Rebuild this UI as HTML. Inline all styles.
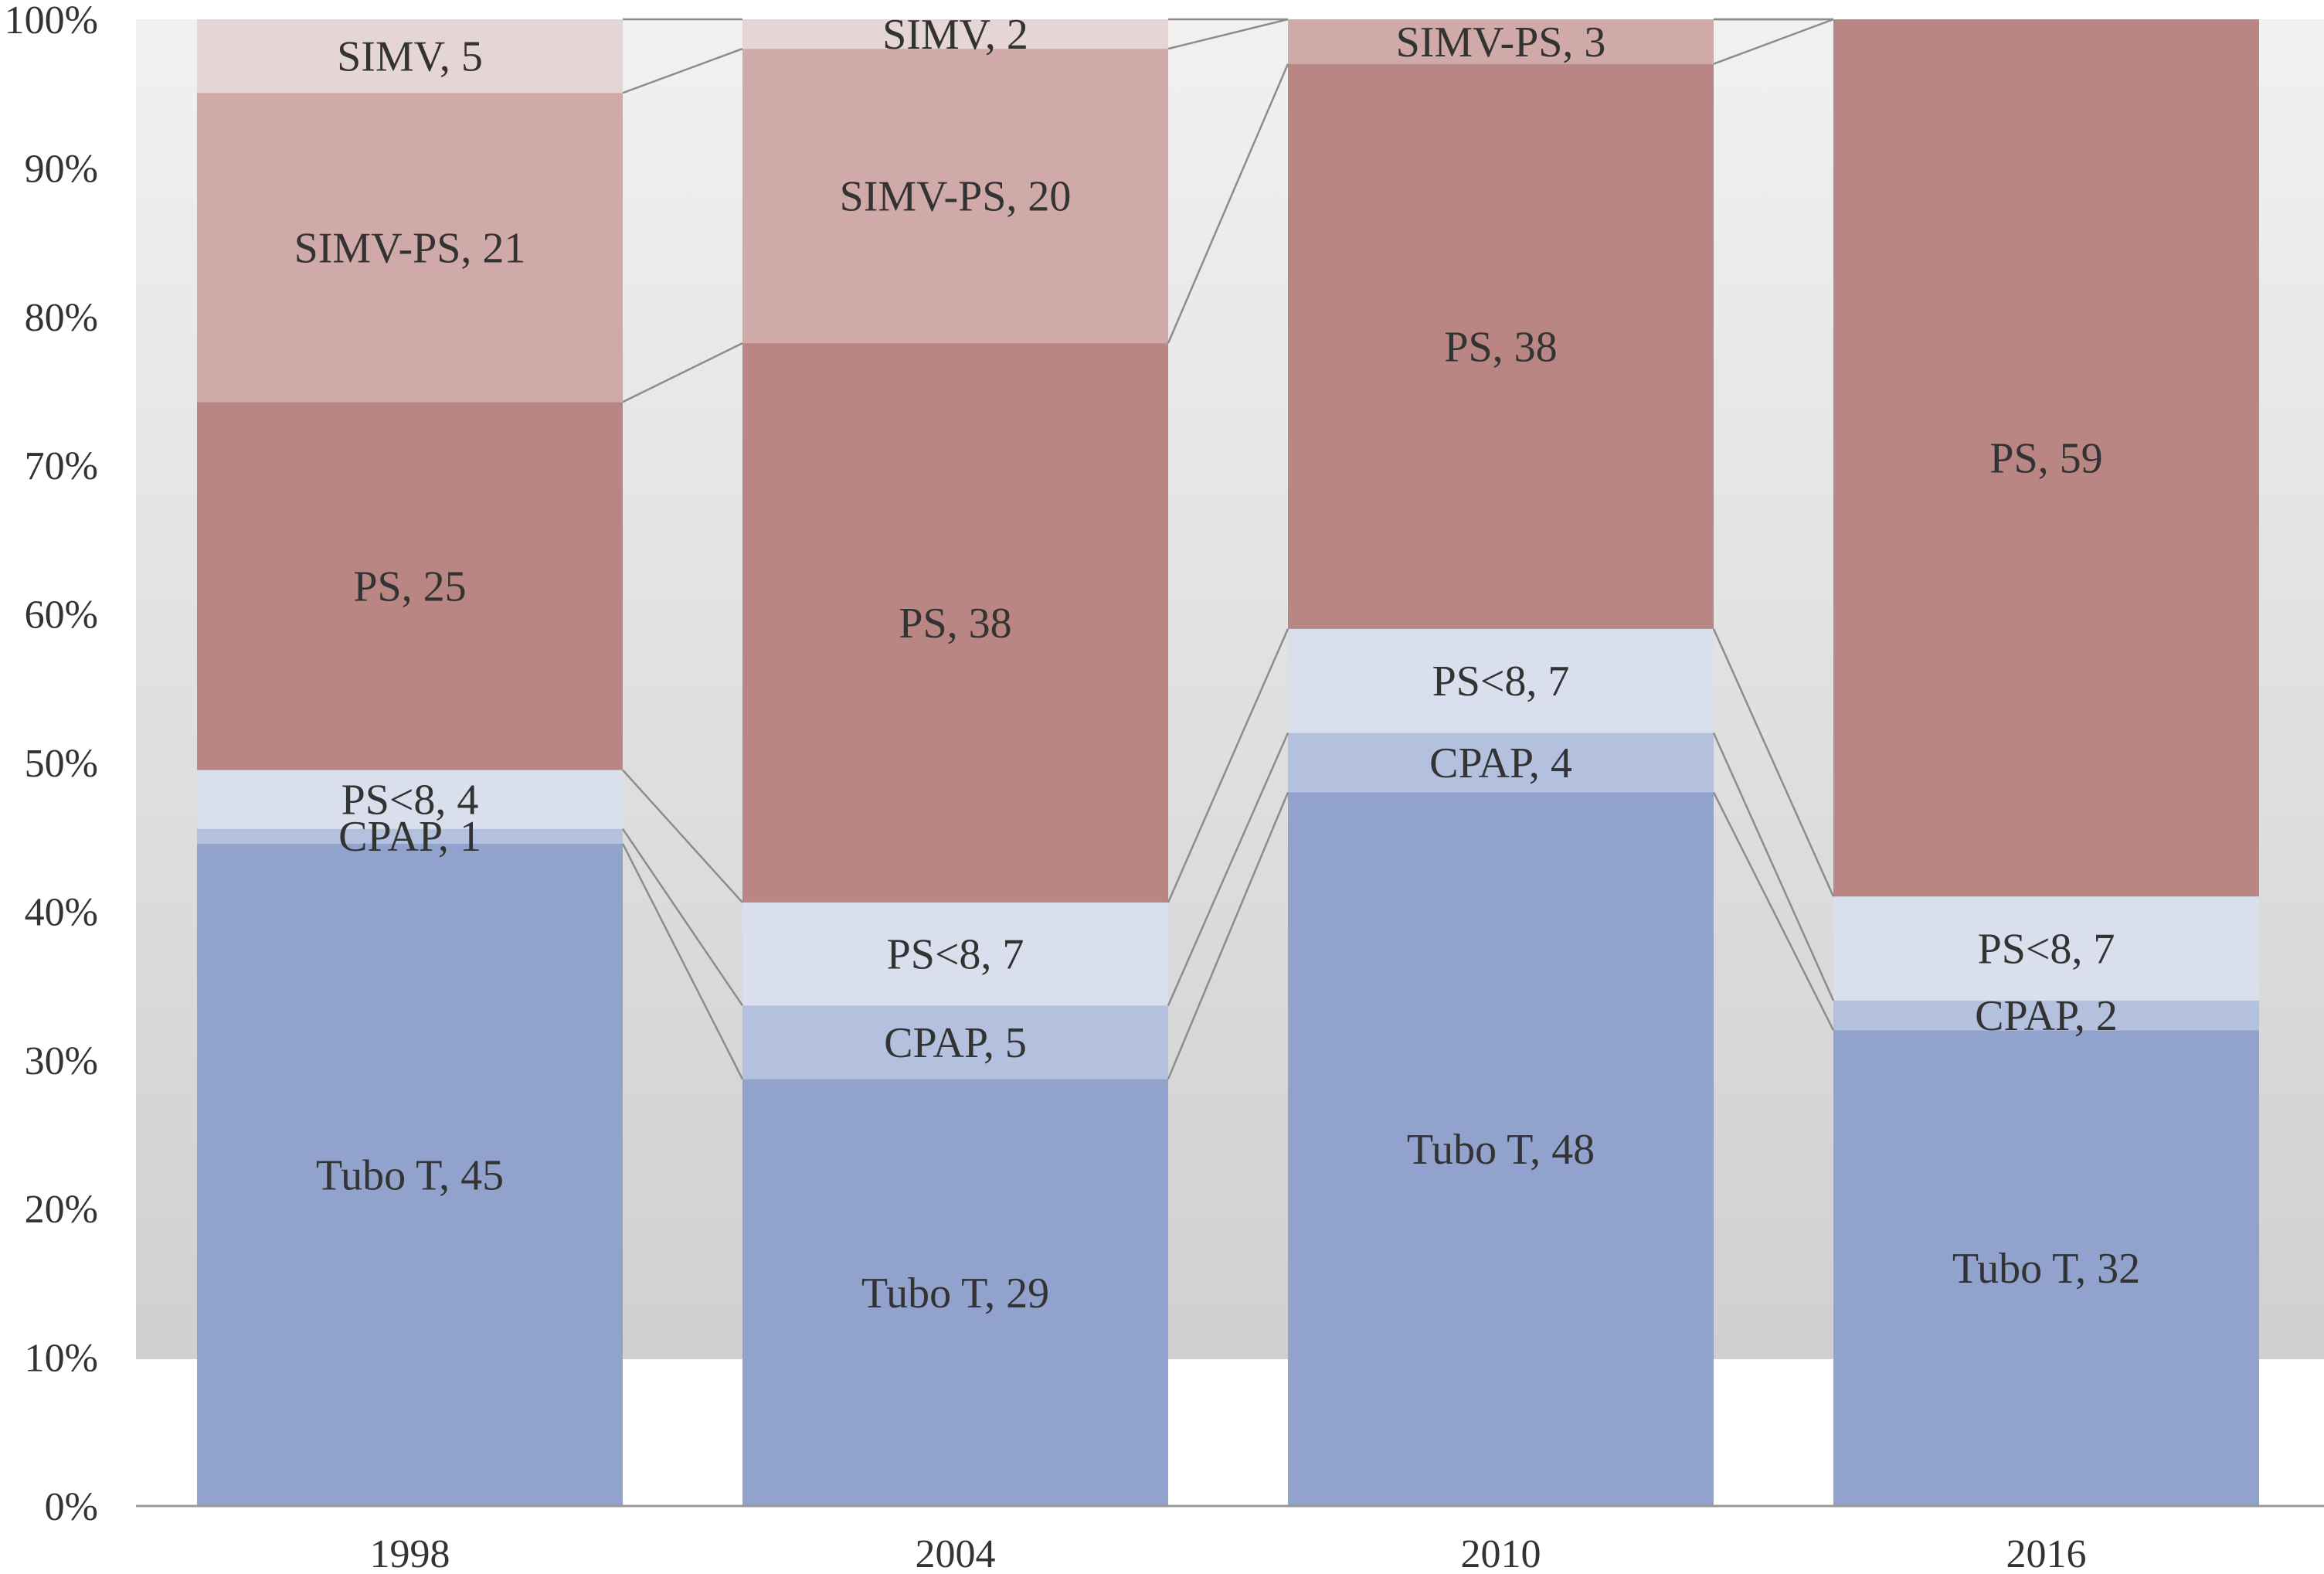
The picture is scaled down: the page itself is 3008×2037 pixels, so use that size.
<!DOCTYPE html>
<html><head><meta charset="utf-8"><style>
html,body{margin:0;padding:0;background:#fff}
svg{display:block}
text{font-family:"Liberation Serif",serif;fill:#333}
</style></head><body>
<svg id="chart" width="3008" height="2037" viewBox="0 0 3008 2037">
<defs><linearGradient id="bg" x1="0" y1="0" x2="0" y2="1"><stop offset="0" stop-color="#f1f1f1"/><stop offset="1" stop-color="#d0d0d0"/></linearGradient></defs>
<rect x="176" y="25" width="2832" height="1734" fill="url(#bg)"/>
<g id="bars"></g><g id="lines"></g><g id="labels"></g><g id="axes"></g>
</svg>
<script>
const categories = ["1998","2004","2010","2016"];
const seriesNames = ["Tubo T","CPAP","PS<8","PS","SIMV-PS","SIMV"];
const tuboT = [45,29,48,32];
const cpap = [1,5,4,2];
const psLow = [4,7,7,7];
const ps = [25,38,38,59];
const simvPs = [21,20,3,0];
const simv = [5,2,0,0];
const yTicks = ["0%","10%","20%","30%","40%","50%","60%","70%","80%","90%","100%"];
const series = [tuboT,cpap,psLow,ps,simvPs,simv];
const colors = ["#91a3cd","#b3c1de","#d9dfed","#b98683","#cfaaa9","#e6d5d5"];
const NS="http://www.w3.org/2000/svg";
const y0=1949,y1=25;
const yScale=p=>y0-(y0-y1)*p/100;
const barW=551;
const xLeft=i=>255+i*706;
function mk(tag,attrs,parent){const e=document.createElementNS(NS,tag);for(const k in attrs)e.setAttribute(k,attrs[k]);document.getElementById(parent).appendChild(e);return e;}
const cums=[];
categories.forEach((c,i)=>{
  const total=series.reduce((s,a)=>s+a[i],0);
  let cum=0;const bounds=[];
  series.forEach((arr,j)=>{
    const v=arr[i];const p0=cum/total*100;cum+=v;const p1=cum/total*100;bounds.push(p1);
    if(v<=0)return;
    const r=mk("rect",{x:xLeft(i),y:yScale(p1),width:barW,height:yScale(p0)-yScale(p1),fill:colors[j]},"bars");
    
    
    const t=mk("text",{x:xLeft(i)+barW/2,y:(yScale(p0)+yScale(p1))/2+19,"text-anchor":"middle","font-size":"56"},"labels");
    t.textContent=seriesNames[j]+", "+v;
    
    
  });
  cums.push(bounds);
});
for(let i=0;i<categories.length-1;i++){
  for(let j=0;j<series.length;j++){
    const l=mk("line",{x1:xLeft(i)+barW,y1:yScale(cums[i][j]),x2:xLeft(i+1),y2:yScale(cums[i+1][j]),stroke:"#8c8c8c","stroke-width":"2.5"},"lines");
    
    
  }
}
yTicks.forEach((t,k)=>{
  const e=mk("text",{x:127,y:yScale(k*10)+18,"text-anchor":"end","font-size":"52"},"axes");
  e.textContent=t;
  
  
});
categories.forEach((c,i)=>{
  const e=mk("text",{x:xLeft(i)+barW/2,y:2028,"text-anchor":"middle","font-size":"52"},"axes");
  e.textContent=c;
  
  
});
const ax=mk("line",{x1:176,y1:y0,x2:3008,y2:y0,stroke:"#999","stroke-width":"3"},"axes");


</script>
</body></html>
